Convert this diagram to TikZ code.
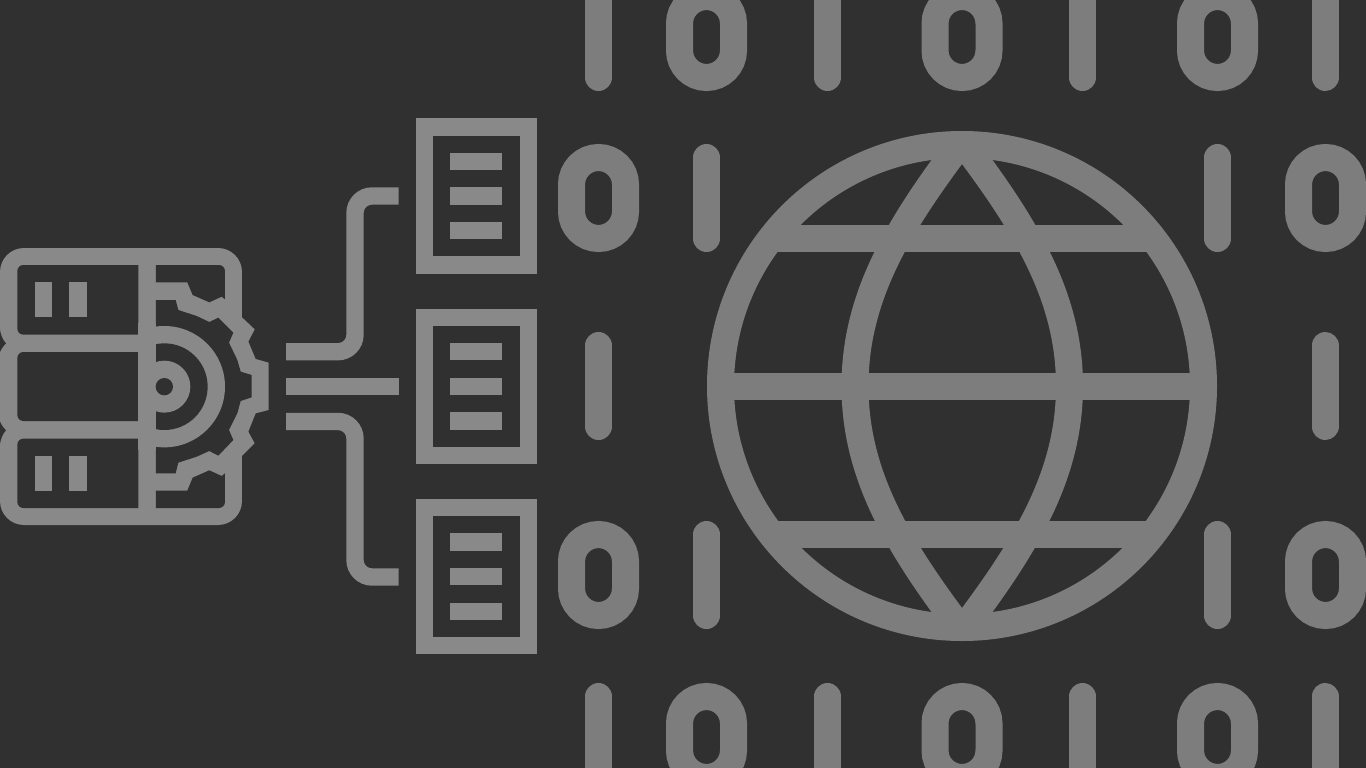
\documentclass[tikz,border=0pt]{standalone}
\definecolor{bgc}{HTML}{303030}
\definecolor{iconc}{HTML}{898989}
\definecolor{globec}{HTML}{7D7D7D}
\tikzset{
  digit/.style={draw=globec,line width=27pt},
  wire/.style={draw=iconc,line width=17.33pt,rounded corners=17pt},
  sheet/.style={draw=iconc,line width=17.33pt},
  textline/.style={fill=iconc},
  hole/.style={fill=bgc},
  solid icon/.style={fill=iconc},
  globeline/.style={draw=globec,line width=27pt}
}
\newcommand{\digitzero}[2]{\draw[digit,rounded corners=27pt] (#1-27,#2+13.5) rectangle (#1+27,#2+94.5);}
\newcommand{\digitone}[2]{\draw[digit,line cap=round] (#1,#2+13.5) -- (#1,#2+94.5);}
\begin{document}
\begin{tikzpicture}[x=1pt,y=-1pt]
\fill[bgc] (0,0) rectangle (1366,768);
\useasboundingbox (0,0) rectangle (1366,768);
% binary digits
\begin{scope}
\clip (0,0) rectangle (1366,768);
\foreach \r in {-17,683}{
  \digitone{598.5}{\r}\digitzero{706.5}{\r}\digitone{827.5}{\r}\digitzero{962}{\r}
  \digitone{1082.5}{\r}\digitzero{1217.5}{\r}\digitone{1325}{\r}
}
\foreach \r in {144,521}{
  \digitzero{598.5}{\r}\digitone{706.5}{\r}\digitone{1217.5}{\r}\digitzero{1325.5}{\r}
}
\digitone{598.5}{332}\digitone{1325}{332}
\end{scope}
% globe
\draw[globeline] (962,386) circle (241.5);
\begin{scope}
\clip (962,386) circle (250);
\draw[globeline] (700,386.5) -- (1224,386.5);
\draw[globeline] (700,238) -- (1224,238);
\draw[globeline] (700,534.5) -- (1224,534.5);
\draw[globeline] (978.5,120) .. controls (905,215) and (855,290) .. (855,386) .. controls (855,482) and (905,557) .. (978.5,652);
\draw[globeline] (945.5,120) .. controls (1019,215) and (1069.5,290) .. (1069.5,386) .. controls (1069.5,482) and (1019,557) .. (945.5,652);
\end{scope}
% documents
\foreach \d/\o in {a/0,b/190.3,c/380.6}{
  \draw[sheet] (424.3,127+\o) rectangle (528.3,265+\o);
  \foreach \t in {152.7,187.3,222}{
    \fill[textline] (450,\t+\o) rectangle (502.3,\t+17.33+\o);
  }
}
% connectors
\coordinate (wa0) at (286,351.7);
\coordinate (wa1) at (355,351.7);
\coordinate (wa2) at (355,196);
\coordinate (wa3) at (398.7,196);
\coordinate (wb0) at (286,386.5);
\coordinate (wb1) at (398.7,386.5);
\coordinate (wc0) at (286,421.5);
\coordinate (wc1) at (355,421.5);
\coordinate (wc2) at (355,577);
\coordinate (wc3) at (398.7,577);
\draw[wire] (wa0) -- (wa1) -- (wa2) -- (wa3);
\draw[wire] (wb0) -- (wb1);
\draw[wire] (wc0) -- (wc1) -- (wc2) -- (wc3);
% server and gear icon (coordinates in thirds of a pixel)
\begin{scope}[shift={(0,240)},x=.33333pt,y=-.33333pt]
\fill[solid icon,rounded corners=24pt] (0,24) rectangle (726,855);
\fill[solid icon] (562,127) -- (578,165) -- (628,187) -- (665,170) -- (675,178) -- (726,232) -- (764,268) -- (745,305) -- (767,357) -- (806,368) -- (806,510) -- (767,520) -- (745,575) -- (764,610) -- (726,648) -- (675,700) -- (665,708) -- (628,691) -- (578,713) -- (562,752) -- cycle;
% notches on the left edge
\fill[hole] (-1,264) .. controls (2,285) and (8,300) .. (18,310) .. controls (8,320) and (2,330) .. (-1,339) -- cycle;
\fill[hole] (-1,542) .. controls (2,551) and (8,561) .. (18,571) .. controls (8,581) and (2,596) .. (-1,617) -- cycle;
% left bays
\fill[hole] (415,75) [rounded corners=6pt] -- (52,75) -- (52,284) [sharp corners] -- (415,284) -- cycle;
\fill[hole] (415,336) [rounded corners=6pt] -- (52,336) -- (52,543) [sharp corners] -- (415,543) -- cycle;
\fill[hole] (415,596) [rounded corners=6pt] -- (52,596) -- (52,804) [sharp corners] -- (415,804) -- cycle;
% status lights
\foreach \y in {127,647}{
  \fill[solid icon] (104,\y) rectangle (156,\y+105);
  \fill[solid icon] (207,\y) rectangle (260,\y+105);
}
% right pockets
\fill[hole] (468,75) [rounded corners=6pt] -- (675,75) [sharp corners] -- (675,178) -- (665,170) -- (628,187) -- (578,165) -- (562,127) -- (468,127) -- cycle;
\fill[hole] (468,804) [rounded corners=6pt] -- (675,804) [sharp corners] -- (675,700) -- (665,708) -- (628,691) -- (578,713) -- (562,752) -- (468,752) -- cycle;
% inside of the gear
\fill[hole] (468,180) -- (527,180) -- (535,210) -- (590,228) -- (628,246) -- (655,233) -- (700,278) -- (687,308) -- (712,360) -- (722,395) -- (755,405) -- (755,472) -- (722,483) -- (712,520) -- (687,570) -- (700,600) -- (655,647) -- (628,633) -- (590,650) -- (535,668) -- (527,700) -- (468,700) -- cycle;
% concentric half rings
\begin{scope}
\clip (468,200) rectangle (720,680);
\fill[solid icon] (493,440) circle [radius=60.67pt];
\fill[hole] (493,440) circle [radius=43.33pt];
\fill[solid icon] (493,440) circle [radius=26pt];
\end{scope}
\fill[solid icon] (415,250) rectangle (468,630);
\fill[hole] (493,440) circle [radius=8.67pt];
\fill[solid icon] (415,284) rectangle (468,336);
\end{scope}
\end{tikzpicture}
\end{document}
